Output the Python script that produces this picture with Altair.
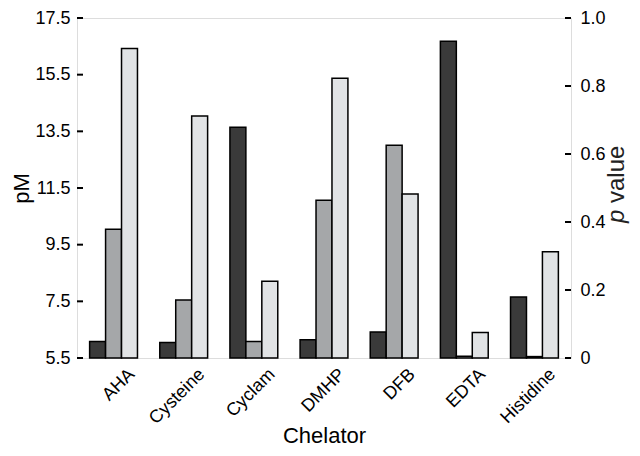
import altair as alt
import pandas as pd

chelators = ["AHA", "Cysteine", "Cyclam", "DMHP", "DFB", "EDTA", "Histidine"]
series = ["S1", "S2", "S3"]
s1 = [6.08, 6.05, 13.64, 6.14, 6.42, 16.68, 7.65]
s2 = [10.04, 7.55, 6.08, 11.07, 13.01, 5.56, 5.55]
s3 = [16.42, 14.04, 8.21, 15.37, 11.29, 6.40, 9.25]
pm_ticks = [5.5, 7.5, 9.5, 11.5, 13.5, 15.5, 17.5]
p_ticks = [0, 0.2, 0.4, 0.6, 0.8, 1.0]
colors = ["#3a3a3a", "#a5a7a9", "#e1e3e5"]

rows = []
for i, c in enumerate(chelators):
    for s, vals in zip(series, [s1, s2, s3]):
        rows.append({"Chelator": c, "series": s, "pM": vals[i]})
df = pd.DataFrame(rows)

W, H = 494, 340
FONT = "Liberation Sans"
TXT = "#222222"

yL = alt.Scale(domain=[5.5, 17.5], zero=False, nice=False)
yR = alt.Scale(domain=[0, 1], nice=False)

bars = alt.Chart(df).mark_bar(stroke="black", strokeWidth=1.5).encode(
    x=alt.X("Chelator:N", sort=chelators,
            scale=alt.Scale(paddingInner=0.318, paddingOuter=0.18),
            axis=alt.Axis(title="Chelator", labelAngle=-45, labelAlign="right",
                          labelBaseline="top", labelPadding=7, labelOffset=12,
                          ticks=False, domain=False, labelFontSize=18,
                          titleFontSize=22, titleFontWeight="normal",
                          titleY=84, titleBaseline="alphabetic")),
    xOffset=alt.XOffset("series:N", sort=series,
                        scale=alt.Scale(paddingInner=0, paddingOuter=0)),
    y=alt.Y("pM:Q", scale=yL,
            axis=alt.Axis(title="pM", values=pm_ticks, format=".1f", ticks=False,
                          domain=False, labelPadding=7, labelFontSize=18,
                          titleFontSize=22, titleFontWeight="normal",
                          titlePadding=1, grid=False)),
    y2=alt.datum(5.5),
    fill=alt.Fill("series:N", scale=alt.Scale(domain=series, range=colors), legend=None),
)

lt = alt.Chart(pd.DataFrame({"v": pm_ticks})).mark_rule(color="black", strokeWidth=2).encode(
    y=alt.Y("v:Q", scale=yL, axis=None),
    x=alt.value(0), x2=alt.value(6),
)

rt = alt.Chart(pd.DataFrame({"p": p_ticks})).mark_rule(color="black", strokeWidth=2).encode(
    y=alt.Y("p:Q", scale=yR,
            axis=alt.Axis(orient="right", values=p_ticks,
                          labelExpr="datum.value == 0 ? '0' : format(datum.value, '.1f')",
                          ticks=False, domain=False, labelPadding=9, labelFontSize=18,
                          title=None, grid=False)),
    x=alt.value(W - 6), x2=alt.value(W),
)

ptxt = alt.Chart(pd.DataFrame({"t": ["p"]})).mark_text(
    angle=270, align="left", baseline="middle", fontSize=24, fontStyle="italic",
    font=FONT, color=TXT).encode(
    text="t:N", x=alt.value(W + 46), y=alt.value(205))

vtxt = alt.Chart(pd.DataFrame({"t": ["value"]})).mark_text(
    angle=270, align="left", baseline="middle", fontSize=24,
    font=FONT, color=TXT).encode(
    text="t:N", x=alt.value(W + 46), y=alt.value(185))

chart = alt.layer(bars, lt, rt, ptxt, vtxt).resolve_scale(y="independent").properties(
    width=W, height=H,
    autosize=alt.AutoSizeParams(type="none"),
    padding={"left": 69, "top": 10, "right": 61, "bottom": 90},
).configure_view(stroke="black", strokeWidth=2).configure_axis(
    labelFont=FONT, titleFont=FONT, labelColor=TXT, titleColor=TXT,
).configure(background="white")

chart.save("out.html", embed_options={"renderer": "svg", "actions": False})
